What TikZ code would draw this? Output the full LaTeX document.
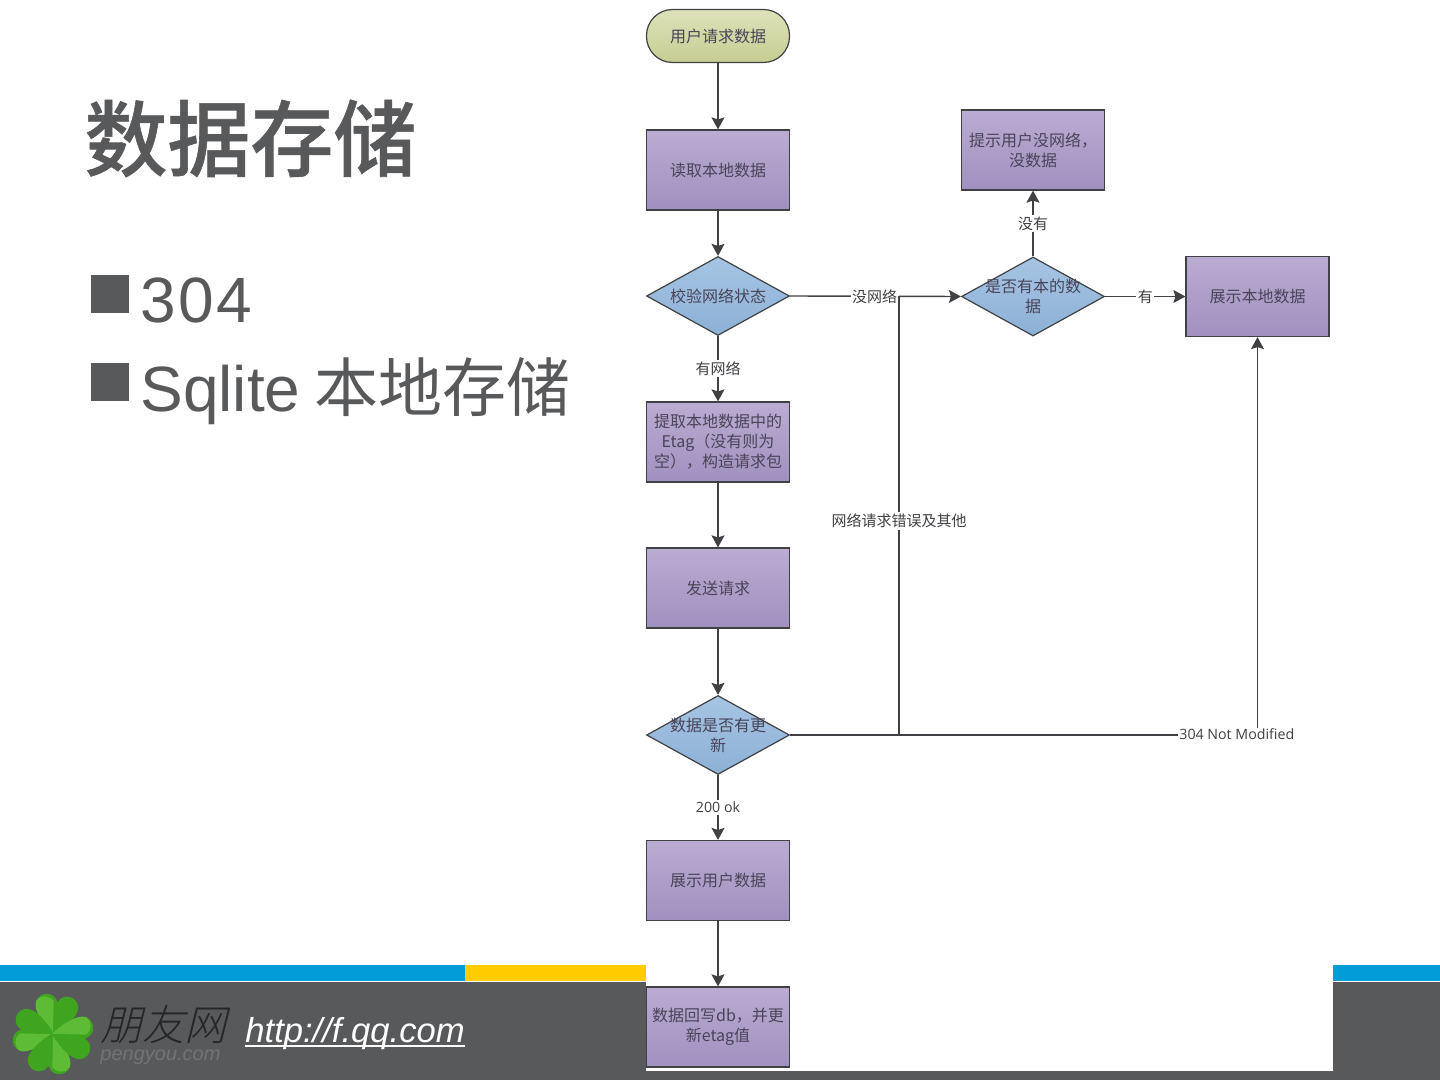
\documentclass[tikz,border=0pt]{standalone}
\usepackage{fontspec}
\setmainfont{Liberation Sans}
\newfontfamily\cjk{Noto Sans CJK SC}
\newfontfamily\cjktitle[FakeBold=0.7]{Noto Sans CJK SC Medium}
\newfontfamily\cjklogo[FakeSlant=0.25]{Noto Sans CJK SC Light}
\newfontfamily\labelfont{Open Sans}
\usepackage{tikz}
\usetikzlibrary{positioning,arrows.meta,shapes.geometric}
\definecolor{slidegray}{HTML}{58595B}
\definecolor{barblue}{HTML}{009DD9}
\definecolor{baryellow}{HTML}{FFCC00}
\definecolor{figline}{HTML}{3F4144}
\definecolor{figtext}{HTML}{4A4458}
\definecolor{leafdark}{HTML}{3FA51E}
\definecolor{leaflight}{HTML}{5DBB35}
\tikzset{
  figbox/.style={draw=figline, line width=0.6pt, minimum width=71.5pt, minimum height=40pt,
    inner sep=0pt, align=center, text=figtext, font=\cjk\fontsize{8}{10}\selectfont,
    top color={rgb,255:red,186;green,172;blue,210}, bottom color={rgb,255:red,160;green,144;blue,192}},
  figstart/.style={figbox, rounded corners=13pt, minimum height=26.5pt,
    top color={rgb,255:red,222;green,226;blue,186}, bottom color={rgb,255:red,198;green,205;blue,146}},
  figdiamond/.style={diamond, draw=figline, line width=0.6pt, minimum width=71.5pt, minimum height=39.5pt,
    inner sep=0pt, aspect=1.8, top color={rgb,255:red,166;green,197;blue,227}, bottom color={rgb,255:red,141;green,176;blue,214}},
  figdiamondtext/.style={align=center, text=figtext, inner sep=0pt, font=\cjk\fontsize{8}{10}\selectfont},
  figarrow/.style={-{Stealth[length=6pt,width=6.5pt,inset=1pt]}, draw=figline, line width=0.7pt},
  figplain/.style={draw=figline, line width=0.7pt},
  figlabel/.style={fill=white, inner sep=0.8pt, text=figline, font=\cjk\fontsize{7.5}{9}\selectfont},
  figlatin/.style={figlabel, font=\labelfont\fontsize{7.1}{9}\selectfont},
  slidetext/.style={anchor=base west, inner sep=0pt, text=slidegray, font=\fontsize{32}{38}\selectfont},
  slidebullet/.style={fill=slidegray, minimum size=19pt, inner sep=0pt},
}
\begin{document}
\begin{tikzpicture}[x=0.5pt,y=-0.5pt]
  \useasboundingbox (0,0) rectangle (1440,1080);
  % 页脚
  \fill[slidegray] (0,982) rectangle (1440,1080);
  \fill[barblue] (0,965) rectangle (465,981);
  \fill[baryellow] (465,965) rectangle (646,981);
  \fill[barblue] (1333,965) rectangle (1440,981);
  \fill[white] (646,0) rectangle (1333,1071);
  % 标题和列表
  \node[slidetext, font=\cjktitle\fontsize{41.5}{48}\selectfont] (title) at (84,170) {数据存储};
  \node[slidebullet] (bulletone) at (110,294) {};
  \node[slidetext] (itemone) at (140,323) {3\kern1.2pt 0\kern1.2pt 4};
  \node[slidebullet] (bullettwo) at (110,382) {};
  \node[slidetext] (itemtwo) at (140,412) {Sqlite\hspace{7.2pt}{\cjk 本地存储}};
  % 标志
  \foreach \a in {-8,82,172,262} {
    \fill[leafdark, rotate around={\a:(53,1034)}]
      (53,1035) .. controls (44,1028) and (29,1013) .. (32,1003)
      .. controls (35,993) and (49,992) .. (53,1002)
      .. controls (57,992) and (71,993) .. (74,1003)
      .. controls (77,1013) and (62,1028) .. (53,1035) -- cycle;
    \fill[leaflight, rotate around={\a:(53,1034)}]
      (53,1035) .. controls (44,1028) and (29,1013) .. (32,1003)
      .. controls (35,997) and (44,996) .. (49,1001) -- cycle;
  }
  \node[inner sep=0pt, anchor=base west, text=black!85, font=\cjklogo\fontsize{21}{24}\selectfont] (logotext) at (100,1040) {朋友网};
  \node[inner sep=0pt, anchor=base west, text=black!55, font=\itshape\fontsize{10}{12}\selectfont] (logourl) at (100,1060) {pengyou.com};
  \node[inner sep=0pt, anchor=base west, text=white, font=\itshape\fontsize{17.3}{20}\selectfont] (url) at (245,1042) {\rlap{\rule[-2.6pt]{110pt}{1pt}}http://f.qq.com};
  % 左列
  \node[figstart] (start) at (718,36) {用户请求数据};
  \node[figbox] (readlocal) at (718,170) {读取本地数据};
  \node[figdiamond] (checknet) at (718,296) {};
  \node[figdiamondtext] (checknettext) at (checknet) {校验网络状态};
  \node[figbox] (etag) at (718,442) {提取本地数据中的\\Etag（没有则为\\空），构造请求包};
  \node[figbox] (send) at (718,588) {发送请求};
  \node[figdiamond] (updated) at (718,735) {};
  \node[figdiamondtext] (updatedtext) at (updated) {数据是否有更\\新};
  \node[figbox] (showuser) at (718,880.5) {展示用户数据};
  \node[figbox] (writeback) at (718,1027) {数据回写db，并更\\新etag值};
  % 右侧
  \node[figbox] (nodata) at (1033,150) {提示用户没网络，\\没数据};
  \node[figdiamond] (haslocal) at (1033,296.5) {};
  \node[figdiamondtext] (haslocaltext) at (haslocal) {是否有本的数\\据};
  \node[figbox] (showlocal) at (1257.5,296.5) {展示本地数据};
  \coordinate (branch) at (899,735);
  \coordinate (merge) at (899,296.5);
  \coordinate (turn) at (showlocal.south |- branch);
  % 连线
  \draw[figarrow] (start) -- (readlocal);
  \draw[figarrow] (readlocal) -- (checknet);
  \draw[figarrow] (checknet) -- node[figlabel] (netyes) {有网络} (etag);
  \draw[figarrow] (etag) -- (send);
  \draw[figarrow] (send) -- (updated);
  \draw[figarrow] (updated) -- node[figlatin] (okay) {200 ok} (showuser);
  \draw[figarrow] (showuser) -- (writeback);
  \draw[figarrow] (checknet.east) -- node[figlabel, pos=0.495] (netno) {没网络} (haslocal.west);
  \draw[figplain] (branch) -- node[figlabel, pos=0.488] (neterror) {网络请求错误及其他} (merge);
  \draw[figarrow] (haslocal) -- node[figlabel] (localno) {没有} (nodata);
  \draw[figarrow] (haslocal) -- node[figlabel, pos=0.5] (localyes) {有} (showlocal);
  \draw[figarrow] (updated.east) -- (turn) -- (showlocal.south);
  \node[figlatin, anchor=west, inner sep=0.5pt] (notmodified) at (1178,734) {304 Not Modified};
\end{tikzpicture}
\end{document}
